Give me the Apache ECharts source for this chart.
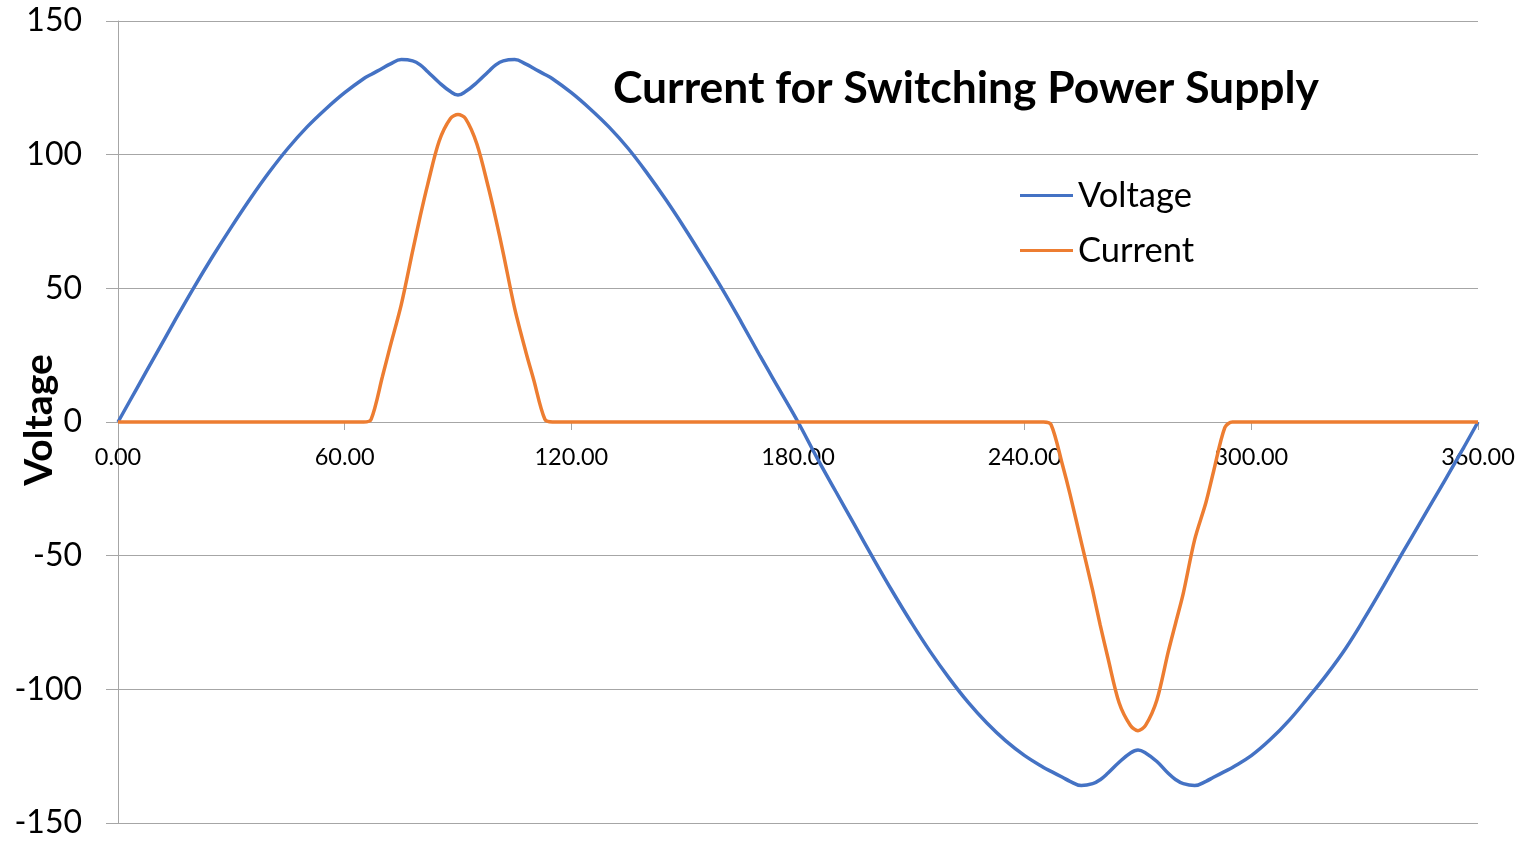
<!DOCTYPE html>
<html>
<head>
<meta charset="utf-8">
<script src="https://cdn.jsdelivr.net/npm/echarts@6/dist/echarts.min.js"></script>
<style>
	html, body { margin: 0; padding: 0; background: #fff; }
	#chart { width: 1521px; height: 843px; }
</style>
</head>
<body>
<div id="chart"></div>
<script>
// phase angle in degrees
const angles = [0, 5, 10, 15, 20, 25, 30, 35, 40, 45, 50, 55, 60, 65, 67, 70, 72, 75, 78, 80, 82, 85, 88, 90,
	92, 95, 98, 100, 102, 105, 108, 110, 113, 115, 120, 125, 130, 135, 140, 145, 150, 155, 160, 165, 170, 175, 180,
	185, 190, 195, 200, 205, 210, 215, 220, 225, 230, 235, 240, 245, 247, 250, 252, 255, 258, 260, 262, 265, 268, 270,
	272, 275, 278, 280, 282, 285, 288, 290, 293, 295, 300, 305, 310, 315, 320, 325, 330, 335, 340, 345, 350, 355, 360];

const voltage = [0, 12.6, 25.2, 37.8, 50.1, 61.8, 72.9, 83.5, 93.4, 102.4, 110.3, 117.1, 123.2, 128.4, 130.0, 132.3, 133.9, 135.6, 135.1, 133.6, 131.0, 127.0, 123.6, 122.3,
	123.6, 127.0, 131.0, 133.6, 135.1, 135.6, 133.9, 132.3, 130.0, 128.4, 123.2, 117.1, 110.3, 102.4, 93.2, 83.2, 72.5, 61.2, 49.6, 37.3, 24.6, 12.3, 0,
	-13.3, -26.0, -38.6, -51.2, -63.4, -75.0, -85.9, -95.8, -104.8, -112.6, -119.3, -124.8, -129.2, -130.7, -132.9, -134.4, -136.0, -135.3, -133.8, -131.4, -127.3, -123.8, -122.7,
	-123.8, -127.0, -131.4, -133.8, -135.3, -136.0, -134.4, -132.9, -130.7, -129.2, -124.8, -118.8, -111.6, -103.2, -94.4, -84.6, -73.3, -61.3, -49.0, -36.9, -24.8, -12.6, 0];

const current = [0, 0, 0, 0, 0, 0, 0, 0, 0, 0, 0, 0, 0, 0, 1, 17, 28, 44, 64, 77, 89, 105, 113.5, 115,
	113.5, 104, 88, 76, 63, 42.5, 26, 16, 1, 0, 0, 0, 0, 0, 0, 0, 0, 0, 0, 0, 0, 0, 0,
	0, 0, 0, 0, 0, 0, 0, 0, 0, 0, 0, 0, 0, -1, -16, -27, -45, -63, -76, -88, -105, -113.5, -115.5,
	-113.5, -104, -86, -75, -64, -44, -30, -18.5, -2, 0, 0, 0, 0, 0, 0, 0, 0, 0, 0, 0, 0, 0, 0];

const xTicks = [0, 60, 120, 180, 240, 300, 360];

const chart = echarts.init(document.getElementById("chart"));
const font = "Lato";
const gridColor = "#a6a6a6";

chart.setOption({
	animation: false,
	backgroundColor: "#fff",
	title: {
		text: "Current for Switching Power Supply",
		left: 608,
		top: 59,
		textStyle: {
			fontFamily: font,
			fontSize: 44.4,
			fontWeight: "bold",
			color: "#000",
			lineHeight: 50
		}
	},
	legend: {
		orient: "vertical",
		left: 1015,
		top: 173,
		icon: "rect",
		itemWidth: 53,
		itemHeight: 3,
		itemGap: 20,
		data: ["Voltage", "Current"],
		textStyle: {
			fontFamily: font,
			fontSize: 34.5,
			color: "#000",
			lineHeight: 35
		}
	},
	grid: {
		left: 118,
		right: 43,
		top: 21,
		bottom: 20,
		containLabel: false,
		outerBoundsMode: "none"
	},
	xAxis: {
		type: "value",
		min: xTicks[0],
		max: xTicks[xTicks.length - 1],
		interval: 60,
		position: "bottom",
		// move the axis up onto the zero line
		offset: -401,
		axisLine: {onZero: false, lineStyle: {color: gridColor, width: 1}},
		axisTick: {show: true, length: 8, lineStyle: {color: gridColor}},
		axisLabel: {
			show: true,
			margin: 23,
			fontFamily: font,
			fontSize: 23.5,
			color: "#000",
			hideOverlap: false,
			showMinLabel: true,
			showMaxLabel: true,
			formatter: v => Number(v).toFixed(2)
		},
		splitLine: {show: false}
	},
	yAxis: {
		type: "value",
		min: -150,
		max: 150,
		interval: 50,
		name: "Voltage",
		nameLocation: "middle",
		nameRotate: 90,
		nameGap: 59,
		nameMoveOverlap: false,
		nameTextStyle: {
			fontFamily: font,
			fontSize: 39,
			fontWeight: "bold",
			color: "#000",
			padding: [0, 0, 0, 4]
		},
		axisLine: {show: true, lineStyle: {color: gridColor, width: 1}},
		axisTick: {show: true, length: 12, lineStyle: {color: gridColor}},
		axisLabel: {
			margin: 36,
			fontFamily: font,
			fontSize: 32,
			color: "#000"
		},
		splitLine: {show: true, lineStyle: {color: gridColor, width: 1}}
	},
	series: [
		{
			name: "Voltage",
			type: "line",
			data: angles.map((a, i) => [a, voltage[i]]),
			smooth: 0.4,
			showSymbol: false,
			color: "#4472c4",
			lineStyle: {color: "#4472c4", width: 3.5}
		},
		{
			name: "Current",
			type: "line",
			data: angles.map((a, i) => [a, current[i]]),
			smooth: 0.3,
			showSymbol: false,
			color: "#ed7d31",
			lineStyle: {color: "#ed7d31", width: 3.5}
		}
	]
});
</script>
</body>
</html>
